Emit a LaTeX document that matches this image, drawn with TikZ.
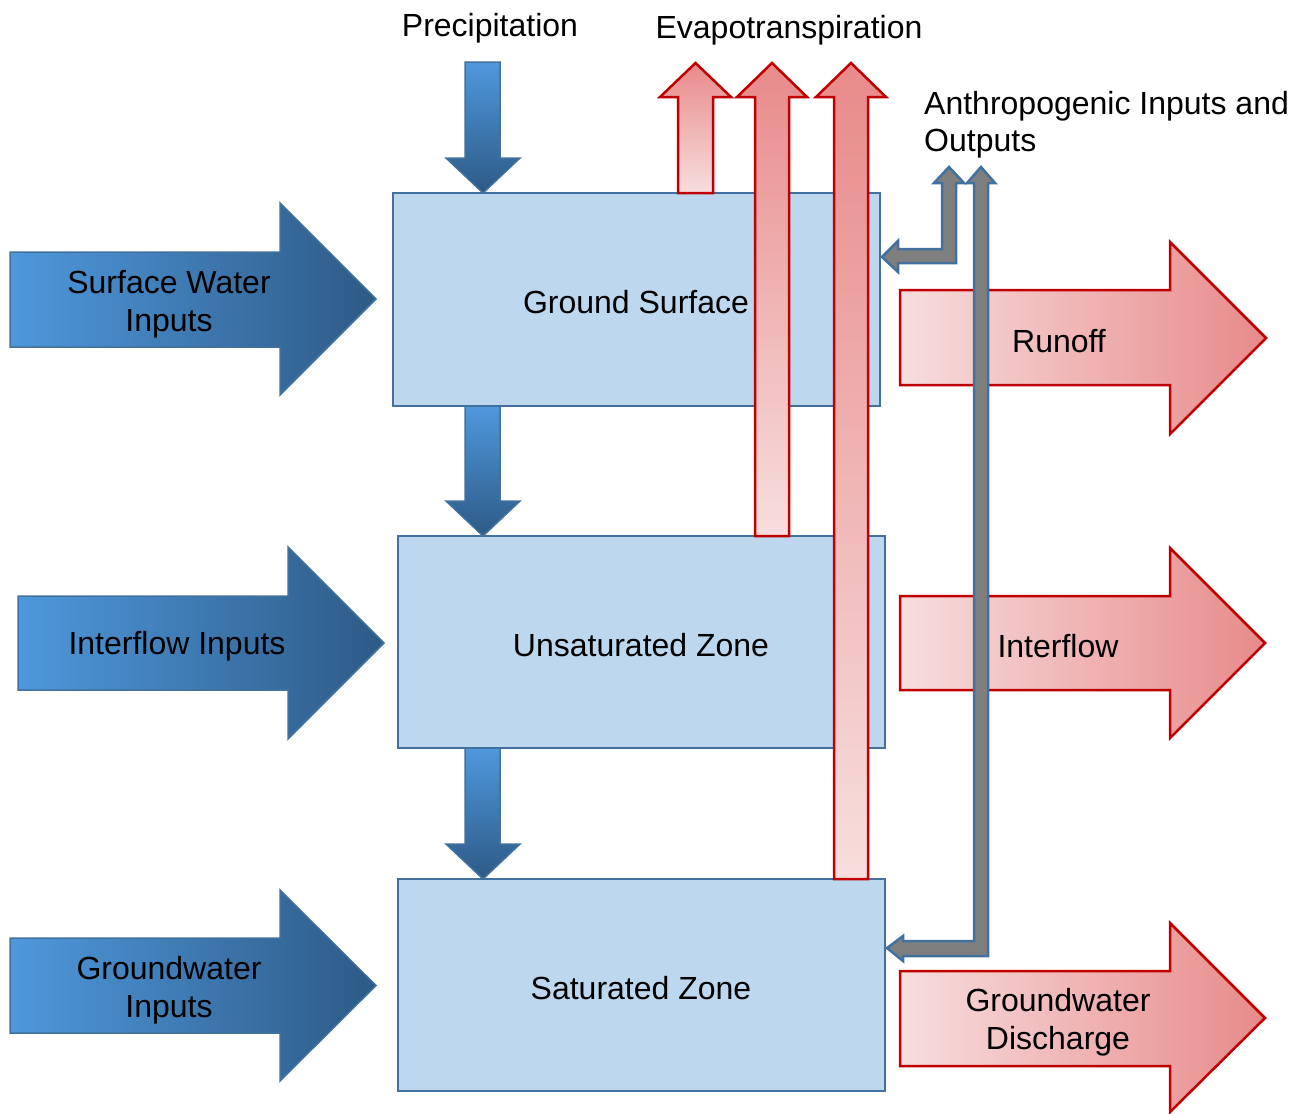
\documentclass[tikz,border=0pt]{standalone}
\usepackage{fontspec}
\setmainfont{Liberation Sans}
\definecolor{zonefill}{HTML}{BDD7EE}
\definecolor{zoneborder}{HTML}{41719C}
\definecolor{bluelight}{HTML}{4F98DC}
\definecolor{bluedark}{HTML}{2D5A86}
\definecolor{redborder}{HTML}{C00000}
\definecolor{redlight}{HTML}{F7DEDE}
\definecolor{reddark}{HTML}{E88A8A}
\definecolor{grayfill}{HTML}{7F7F7F}
\begin{document}
\begin{tikzpicture}[x=1pt,y=-1pt,
  zone/.style={draw=zoneborder, fill=zonefill, line width=2pt, inner sep=0pt},
  inflow/.style={draw=zoneborder, line width=1.5pt, left color=bluelight, right color=bluedark},
  fall/.style={draw=zoneborder, line width=1.5pt, top color=bluelight, bottom color=bluedark},
  outflow/.style={draw=redborder, line width=2.5pt, left color=redlight, right color=reddark},
  rise/.style={draw=redborder, line width=2.5pt, top color=reddark, bottom color=redlight},
  manmade/.style={draw=zoneborder, line width=2.5pt, fill=grayfill, line join=miter},
  label/.style={font=\fontsize{32pt}{37.5pt}\selectfont, inner sep=0pt, align=center}
]
\useasboundingbox (0,0) rectangle (1299,1114);

% storage zones
\node[zone, minimum width=487pt, minimum height=213pt] (gs) at (636.5,299.5) {};
\node[zone, minimum width=487pt, minimum height=212pt] (uz) at (641.5,642) {};
\node[zone, minimum width=487pt, minimum height=212pt] (sz) at (641.5,985) {};

% vertical transfers: precipitation and percolation
\path[fall] (465,62) -- (500,62) -- (500,158) -- (520,158) -- (483,193) -- (446,158) -- (465,158) -- cycle;
\path[fall] (465,406) -- (500,406) -- (500,501) -- (520,501) -- (483,536) -- (446,501) -- (465,501) -- cycle;
\path[fall] (465,748) -- (500,748) -- (500,844) -- (520,844) -- (483,879) -- (446,844) -- (465,844) -- cycle;

% evapotranspiration from each zone
\path[rise] (678,193) -- (713,193) -- (713,97) -- (731,97) -- (695.5,63) -- (660,97) -- (678,97) -- cycle;
\path[rise] (755,536) -- (789,536) -- (789,97) -- (807,97) -- (772,63) -- (737,97) -- (755,97) -- cycle;
\path[rise] (834,879) -- (868,879) -- (868,97) -- (886,97) -- (851,63) -- (816,97) -- (834,97) -- cycle;

% lateral inputs
\path[inflow] (10,252) -- (280,252) -- (280,203) -- (376,299) -- (280,395) -- (280,347) -- (10,347) -- cycle;
\path[inflow] (18,596) -- (288,596) -- (288,547) -- (384,643) -- (288,739) -- (288,690) -- (18,690) -- cycle;
\path[inflow] (10,938) -- (280,938) -- (280,890) -- (376,985.5) -- (280,1081) -- (280,1033) -- (10,1033) -- cycle;

% lateral outputs
\path[outflow] (900,290) -- (1170,290) -- (1170,242) -- (1266,338) -- (1170,434) -- (1170,385) -- (900,385) -- cycle;
\path[outflow] (900,596) -- (1170,596) -- (1170,548) -- (1265,643) -- (1170,738) -- (1170,690) -- (900,690) -- cycle;
\path[outflow] (900,971) -- (1170,971) -- (1170,923) -- (1265,1018) -- (1170,1112) -- (1170,1066) -- (900,1066) -- cycle;

% anthropogenic exchanges
\path[manmade] (882,257) -- (898,241) -- (898,249) -- (942,249) -- (942,183) -- (934,183) -- (949,167)
  -- (964,183) -- (956,183) -- (956,263) -- (898,263) -- (898,272) -- cycle;
\path[manmade] (887,948) -- (903,936) -- (903,941) -- (974,941) -- (974,183) -- (967,183) -- (981,167)
  -- (995,183) -- (988,183) -- (988,956) -- (903,956) -- (903,961) -- cycle;

% labels
\node[label] (tgs) at (636,302) {Ground Surface};
\node[label] (tuz) at (641,645) {Unsaturated Zone};
\node[label] (tsz) at (641,988) {Saturated Zone};
\node[label] (tpr) at (490,28) {Precipitation};
\node[label] (tet) at (789,30) {Evapotranspiration};
\node[label, align=left, anchor=north west] (tan) at (924,91) {Anthropogenic Inputs and\\Outputs};
\node[label] (tsw) at (169,304) {Surface Water\\Inputs};
\node[label] (tii) at (177,646) {Interflow Inputs};
\node[label] (tgi) at (169,990) {Groundwater\\Inputs};
\node[label] (tro) at (1059,341) {Runoff};
\node[label] (tio) at (1058,646) {Interflow};
\node[label] (tgd) at (1058,1022) {Groundwater\\Discharge};
\end{tikzpicture}
\end{document}
